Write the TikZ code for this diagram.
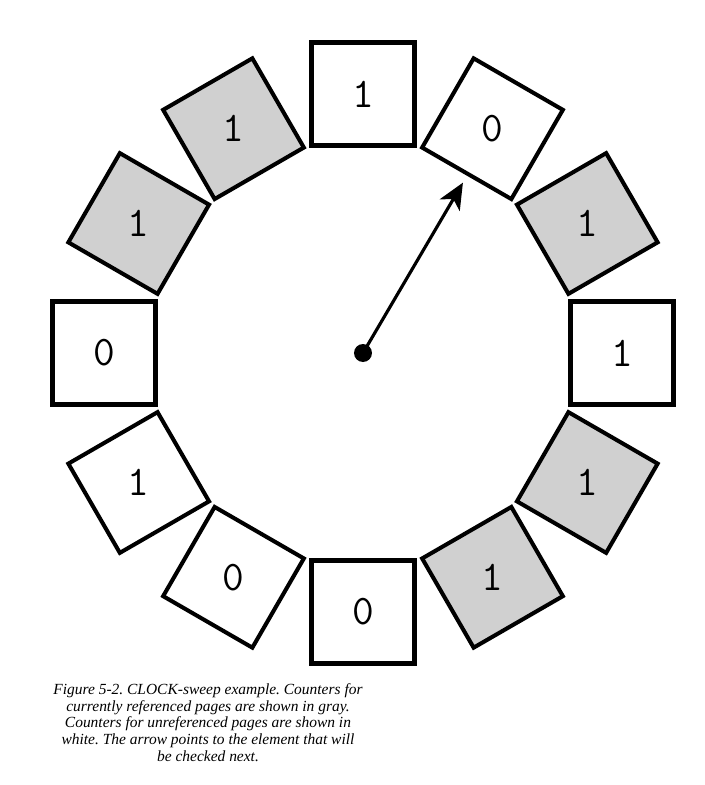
\documentclass[tikz,border=0pt]{standalone}
\usepackage{fontspec}
\setmainfont{Liberation Serif}
\usetikzlibrary{arrows.meta}
\definecolor{refgray}{RGB}{208,208,208}
\tikzset{
  % Counter cell on the clock
  cell/.style={
    draw, rectangle, line width=2.3pt,
    minimum size=2.06cm, inner sep=0pt
  },
  cellvalue/.style={
    font=\ttfamily\fontsize{24}{26}\selectfont, inner sep=0pt
  },
  % Clock hand
  hub/.style={
    circle, fill=black, minimum size=0.36cm, inner sep=0pt
  },
  hand/.style={
    -{Stealth[length=0.52cm, width=0.46cm, inset=0.14cm]},
    line width=1.8pt
  },
  caption/.style={
    align=center, inner sep=0pt,
    font=\itshape\fontsize{8.8}{9.6}\selectfont
  },
}
\newcommand{\clockcell}[4]{%
  \node[cell, fill=#3, rotate=#2] (#1) at (#2:5.18) {};
  \node[cellvalue] (#1-val) at (#1.center) {#4};
}

\begin{document}
\frenchspacing
\begin{tikzpicture}

  \useasboundingbox (-7.26,-8.64) rectangle (6.82,7.06);

  %% ── Counters ──
  \clockcell{h12}{90}{white}{1}
  \clockcell{h1}{60}{white}{0}
  \clockcell{h2}{30}{refgray}{1}
  \clockcell{h3}{0}{white}{1}
  \clockcell{h4}{-30}{refgray}{1}
  \clockcell{h5}{-60}{refgray}{1}
  \clockcell{h6}{-90}{white}{0}
  \clockcell{h7}{-120}{white}{0}
  \clockcell{h8}{-150}{white}{1}
  \clockcell{h9}{180}{white}{0}
  \clockcell{h10}{150}{refgray}{1}
  \clockcell{h11}{120}{refgray}{1}

  %% ── Hand ──
  \node[hub] (hub) at (0,0) {};
  \coordinate (tip) at (59.6:3.95);
  \draw[hand] (hub.center) -- (tip);

  %% ── Caption ──
  \node[caption, anchor=north] (cap) at (-3.1,-6.6) {%
    Figure 5-2. CLOCK-sweep example. Counters for\\
    currently referenced pages are shown in gray.\\
    Counters for unreferenced pages are shown in\\
    white. The arrow points to the element that will\\
    be checked next.};

\end{tikzpicture}
\end{document}
